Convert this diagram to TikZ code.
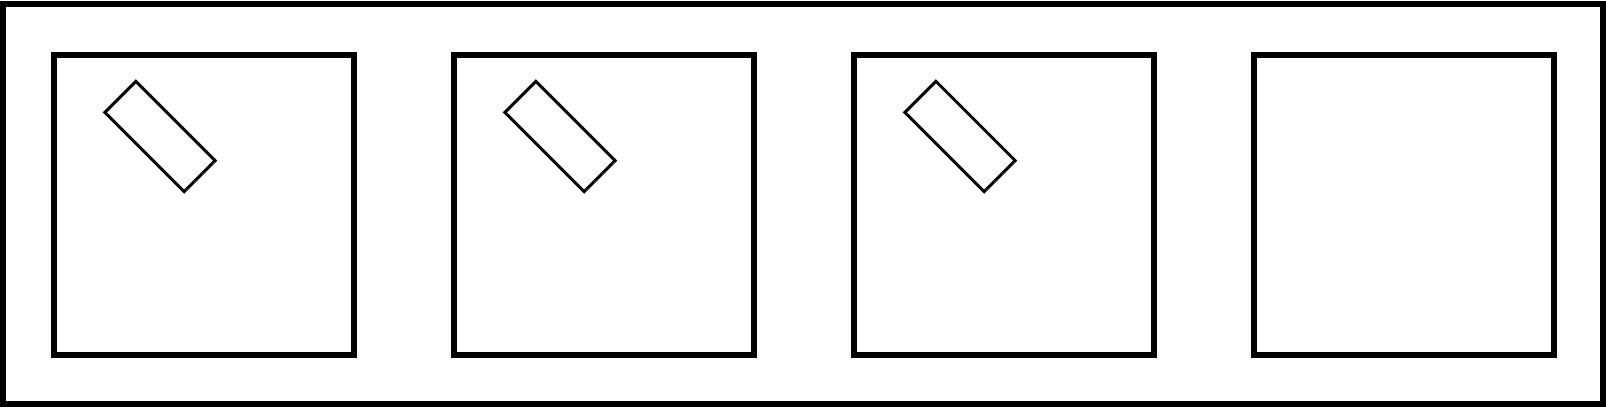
\documentclass[tikz,border=0pt]{standalone}
\usepackage{tikz}
\usetikzlibrary{positioning}

\begin{document}
\begin{tikzpicture}[x=1pt, y=-1pt,
  frame/.style={draw=black, line width=5.5pt},
  panel/.style={draw=black, line width=5.7pt, minimum size=300pt, inner sep=0pt},
  bar/.style={draw=black, line width=3pt, minimum width=112pt, minimum height=44pt, inner sep=0pt, rotate=-45},
]
\useasboundingbox (0,0) rectangle (1606,407);
% outer frame
\draw[frame] (3,4) rectangle (1603,404);

% four panels, 400pt apart
\foreach \i in {1,...,4} {
  \node[panel] (panel\i) at ({204+400*(\i-1)},204.75) {};
}

% tilted bar in the first three panels
\foreach \i in {1,2,3} {
  \node[bar] (bar\i) at ({160+400*(\i-1)},136.5) {};
}
\end{tikzpicture}
\end{document}
